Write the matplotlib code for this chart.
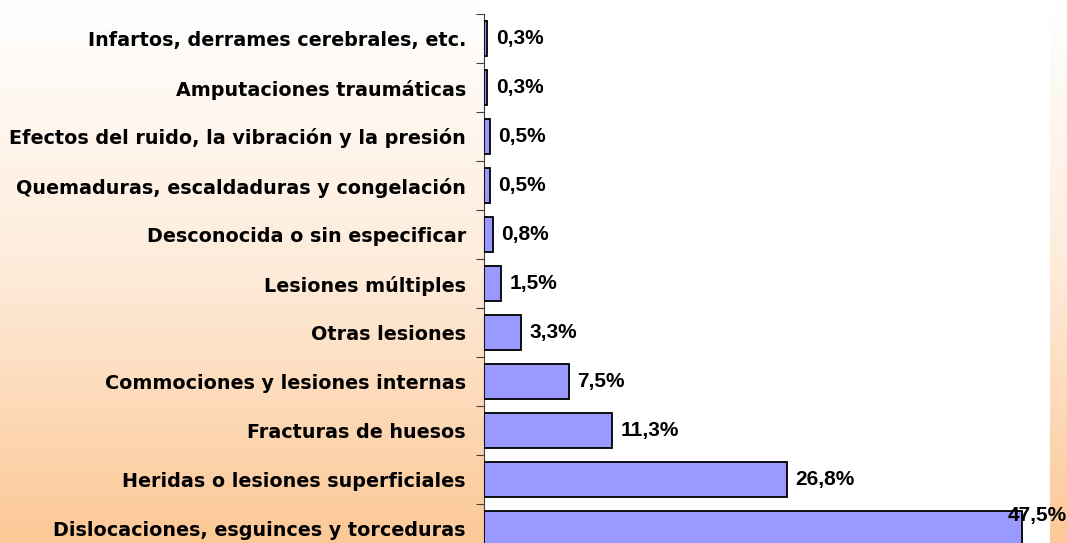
import numpy as np
import matplotlib
matplotlib.use("Agg")
import matplotlib.pyplot as plt
from matplotlib.colors import LinearSegmentedColormap

categories = [
    "Infartos, derrames cerebrales, etc.",
    "Amputaciones traumáticas",
    "Efectos del ruido, la vibración y la presión",
    "Quemaduras, escaldaduras y congelación",
    "Desconocida o sin especificar",
    "Lesiones múltiples",
    "Otras lesiones",
    "Commociones y lesiones internas",
    "Fracturas de huesos",
    "Heridas o lesiones superficiales",
    "Dislocaciones, esguinces y torceduras",
]
values = [0.3, 0.3, 0.5, 0.5, 0.8, 1.5, 3.3, 7.5, 11.3, 26.8, 47.5]

W, H = 1067, 543
fig = plt.figure(figsize=(W / 100, H / 100), dpi=100)

# background gradient (white top -> peach bottom)
bg = fig.add_axes([0, 0, 1, 1], zorder=-10)
grad = np.linspace(0, 1, 256).reshape(-1, 1)
cmap = LinearSegmentedColormap.from_list("bg", ["#FFFFFF", "#FEEBDA", "#FCC896"])
bg.imshow(grad, aspect="auto", cmap=cmap, extent=[0, 1, 0, 1], origin="upper")
bg.axis("off")

left_px, right_px, top_px = 484, 1050, 14
slot = 49
bottom_px = top_px + slot * len(categories)
ax = fig.add_axes([left_px / W, (H - bottom_px) / H,
                   (right_px - left_px) / W, (bottom_px - top_px) / H])
ax.set_facecolor("white")
# white column of the plot area above the first category
fig.patches.append(plt.Rectangle((left_px / W, (H - top_px) / H), (right_px - left_px) / W,
                                 top_px / H, transform=fig.transFigure, color="white", zorder=-5))

y = np.arange(len(categories))
ax.barh(y, values, height=0.71, color="#9999FF", edgecolor="black", linewidth=1.3, zorder=3)
ax.set_xlim(0, 50)
ax.set_ylim(len(categories) - 0.5, -0.5)

cat_font = dict(family=["DejaVu Sans"], weight="bold", size=13.8)
val_font = dict(family=["Liberation Sans", "DejaVu Sans"], weight="bold", size=15)

ax.set_yticks(y)
ax.set_yticklabels(categories, **cat_font)
ax.tick_params(axis="y", which="major", length=0, pad=13)
ax.set_yticks(np.arange(len(categories) + 1) - 0.5, minor=True)
ax.tick_params(axis="y", which="minor", length=6, width=0.8, direction="out", color="#404040")
ax.set_xticks([])
for s in ["top", "right", "bottom"]:
    ax.spines[s].set_visible(False)
ax.spines["left"].set_linewidth(0.8)
ax.spines["left"].set_color("#404040")

imax = int(np.argmax(values))
for i, v in enumerate(values):
    lab = f"{v:.1f}%".replace(".", ",")
    if i == imax:
        fig.text(0.9995, (H - 521) / H, lab, ha="right", va="baseline", **val_font)
    else:
        ax.annotate(lab, xy=(v, i), xytext=(6, 0), textcoords="offset points",
                    ha="left", va="center", **val_font)

fig.savefig("out.png", dpi=100)
